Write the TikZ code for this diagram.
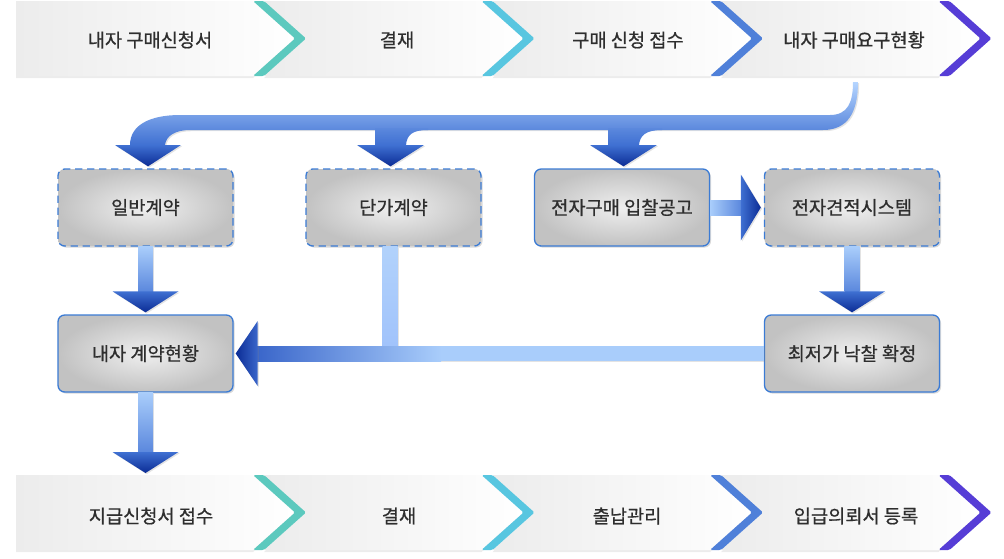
\documentclass[tikz,border=0pt]{standalone}
\usepackage{fontspec}
\setmainfont{Noto Sans CJK KR}
\newfontfamily\krfont{Noto Sans CJK KR}[FakeBold=0.7]
\usetikzlibrary{calc,shadows}
\definecolor{txt}{HTML}{2E2E2E}
\definecolor{boxedge}{HTML}{3B7BD4}
\definecolor{boxin}{HTML}{EFEFEF}
\definecolor{boxout}{HTML}{C2C2C2}
\definecolor{segL}{HTML}{ECECEC}
\definecolor{segR}{HTML}{FFFFFF}
\definecolor{cA}{HTML}{5CC9BE}
\definecolor{cB}{HTML}{58C6E0}
\definecolor{cC}{HTML}{4F80D9}
\definecolor{cD}{HTML}{563DD6}
\definecolor{alight}{HTML}{A9CDFB}
\definecolor{amid}{HTML}{5B88DD}
\definecolor{ahead}{HTML}{3F70D2}
\definecolor{adark}{HTML}{0B2C95}
\definecolor{bandT}{HTML}{B5D5FF}
\definecolor{hmid}{HTML}{3A66CA}
\newcommand\chevbar[3]{%
  \foreach \i in {1,2,3,4}{%
    \pgfmathsetmacro\T{253+228.5*(\i-1)}%
    \pgfmathsetmacro\P{\T+42}%
    \ifnum\i=1
      \path[seg] (16,#1) -- (\T,#1) -- (\P,#3) -- (\T,#2) -- (16,#2) -- cycle;
    \else
      \pgfmathsetmacro\Tq{\T-228.5+11}%
      \pgfmathsetmacro\Pq{\Tq+42}%
      \path[seg] (\Tq,#1) -- (\T,#1) -- (\P,#3) -- (\T,#2) -- (\Tq,#2) -- (\Pq,#3) -- cycle;
    \fi
  }%
  \foreach \i/\c in {1/cA,2/cB,3/cC,4/cD}{%
    \pgfmathsetmacro\T{253+228.5*(\i-1)}%
    \pgfmathsetmacro\P{\T+42}%
    \pgfmathsetmacro\To{\T+11}%
    \pgfmathsetmacro\Po{\P+11}%
    \fill[\c, rounded corners=1.2pt] (\T,#1) -- (\To,#1) -- (\Po,#3) -- (\To,#2) -- (\T,#2) -- (\P,#3) -- cycle;
  }%
}
\tikzset{
  lbl/.style={font=\krfont\fontsize{14}{17}\selectfont, text=txt, inner sep=0pt},
  box/.style={rectangle, rounded corners=5pt, draw=boxedge, line width=1pt,
    inner color=boxin, outer color=boxout, minimum width=131.25pt, minimum height=57.75pt,
    font=\krfont\fontsize{14}{17}\selectfont, text=txt,
    drop shadow={opacity=0.3,shadow xshift=1.2pt,shadow yshift=-1.2pt}},
  dbox/.style={box, dash pattern=on 5.5pt off 3.5pt},
  shd/.style={drop shadow={opacity=0.22,shadow xshift=0.9pt,shadow yshift=-0.9pt}},
  seg/.style={left color=segL, right color=segR,
    drop shadow={opacity=0.15,shadow xshift=0pt,shadow yshift=-1.5pt}},
}
\begin{document}
\begin{tikzpicture}[x=0.75pt,y=-0.75pt]
\useasboundingbox (0,0) rectangle (1004,558);

% process bars
\chevbar{1}{76}{38.5}
\chevbar{475}{550}{512.5}

\node[lbl] (t1) at (150,40) {내자 구매신청서};
\node[lbl] (t2) at (397,40) {결재};
\node[lbl] (t3) at (628,40) {구매 신청 접수};
\node[lbl] (t4) at (854,40) {내자 구매요구현황};
\node[lbl] (b1) at (151,516) {지급신청서 접수};
\node[lbl] (b2) at (399,516) {결재};
\node[lbl] (b3) at (627,516) {출납관리};
\node[lbl] (b4) at (856,516) {입급의뢰서 등록};

% boxes
\node[dbox] (g) at (145.5,207.5) {일반계약};
\node[dbox] (d) at (393.5,207.5) {단가계약};
\node[box]  (e) at (622,207.5) {전자구매 입찰공고};
\node[dbox] (q) at (852,207.5) {전자견적시스템};
\node[box]  (n) at (145.5,353.5) {내자 계약현황};
\node[box]  (m) at (852,353.5) {최저가 낙찰 확정};
\coordinate (nb) at (145.5,473);

% big distributing arrow from top bar
\path[shd, top color=bandT, bottom color=ahead]
  (130,145) .. controls (130,125) and (150,115) .. (180,115) -- (830,115)
  .. controls (848,115) and (853,102) .. (853,82) -- (858,82)
  .. controls (858,112) and (848,130) .. (823,130) -- (190,130)
  .. controls (175,130) and (166,136) .. (165,145) -- cycle;
\path[top color=amid, bottom color=ahead]
  (375,128) -- (428,128) -- (428,130) .. controls (412,130) and (407,135) .. (406,145) -- (375,145) -- cycle;
\path[top color=amid, bottom color=ahead]
  (608,128) -- (662,128) -- (662,130) .. controls (645,130) and (640,136) .. (639,145) -- (608,145) -- cycle;
\path[shd, top color=ahead, bottom color=adark] (115,145) -- (181,145) -- ($(g.north)+(2.5,-2)$) -- cycle;
\path[shd, top color=ahead, bottom color=adark] (357,145) -- (424,145) -- ($(d.north)+(-3,-2)$) -- cycle;
\path[shd, top color=ahead, bottom color=adark] (590,145) -- (657,145) -- ($(e.north)+(1.5,-2)$) -- cycle;

% g -> n
\path[shd, top color=alight, bottom color=amid] ($(g.south)+(-7.5,0)$) rectangle ($(n.north)+(7.5,-23)$);
\path[shd, top color=ahead, bottom color=adark] ($(n.north)+(-33,-23)$) -- ($(n.north)+(33,-23)$) -- ($(n.north)+(0,-2)$) -- cycle;
% n -> bottom bar
\path[shd, top color=alight, bottom color=amid] ($(n.south)+(-7.5,0)$) rectangle ($(nb)+(7.5,-21)$);
\path[shd, top color=ahead, bottom color=adark] ($(nb)+(-33,-21)$) -- ($(nb)+(33,-21)$) -- (nb) -- cycle;
% q -> m
\path[shd, top color=alight, bottom color=amid] ($(q.south)+(-7.5,0)$) rectangle ($(m.north)+(7.5,-23)$);
\path[shd, top color=ahead, bottom color=adark] ($(m.north)+(-33,-23)$) -- ($(m.north)+(33,-23)$) -- ($(m.north)+(0,-2)$) -- cycle;
% e -> q
\path[shd, left color=alight, right color=amid] ($(e.east)+(0,-7.5)$) rectangle ($(q.west)+(-23,7.5)$);
\path[shd, left color=ahead, right color=adark] ($(q.west)+(-23,-33)$) -- ($(q.west)+(-23,33)$) -- ($(q.west)+(-3,0)$) -- cycle;
% d -> band, m -> n
\path[shd, top color=alight!90!white, bottom color=alight!95!blue] ($(d.south)+(-11,0)$) rectangle ($(d.south)+(4,100)$);
\path[shd, fill=alight] ($(m.west)+(0,-7.5)$) rectangle (440,361);
\path[left color=hmid, right color=alight] ($(n.east)+(23.5,-7.5)$) rectangle (441,361);
\path[shd, left color=adark, right color=hmid] ($(n.east)+(24,-32.5)$) -- ($(n.east)+(24,32.5)$) -- ($(n.east)+(2,0)$) -- cycle;
\end{tikzpicture}
\end{document}
